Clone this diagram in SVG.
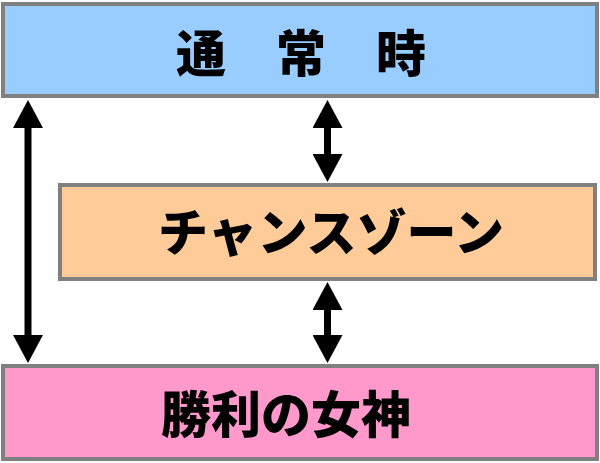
<svg xmlns="http://www.w3.org/2000/svg" width="600" height="463" viewBox="0 0 600 463">
<defs>
<style>
.box{stroke:#808080;stroke-width:4}
.lbl{font-family:"Noto Sans CJK JP","Noto Sans CJK SC",sans-serif;font-weight:900;font-size:50px;fill:#000;text-anchor:middle}
.arr{stroke:#000;stroke-width:7;fill:none;marker-start:url(#ah);marker-end:url(#ah)}
</style>
<marker id="ah" markerUnits="userSpaceOnUse" markerWidth="28" markerHeight="30" refX="0" refY="15" orient="auto-start-reverse" viewBox="0 0 28 30">
<path d="M0,0 L28,15 L0,30 z" fill="#000"/>
</marker>
</defs>
<rect width="600" height="463" fill="#fff"/>
<g id="connectors">
<line class="arr" x1="28" y1="128" x2="28" y2="335"/>
<line class="arr" x1="327.5" y1="128" x2="327.5" y2="154"/>
<line class="arr" x1="327.5" y1="310" x2="327.5" y2="335"/>
</g>
<g id="normal">
<rect class="box" x="3" y="4" width="594" height="92" fill="#99CCFF"/>
<text class="lbl" x="301" y="72" font-size="51">通　常　時</text>
</g>
<g id="chance">
<rect class="box" x="60" y="185" width="535" height="94" fill="#FFCC99"/>
<text class="lbl" x="331" y="251">チャンスゾーン</text>
</g>
<g id="goddess">
<rect class="box" x="3" y="366" width="594" height="93" fill="#FF99CC"/>
<text class="lbl" x="286" y="433">勝利の女神</text>
</g>
</svg>
